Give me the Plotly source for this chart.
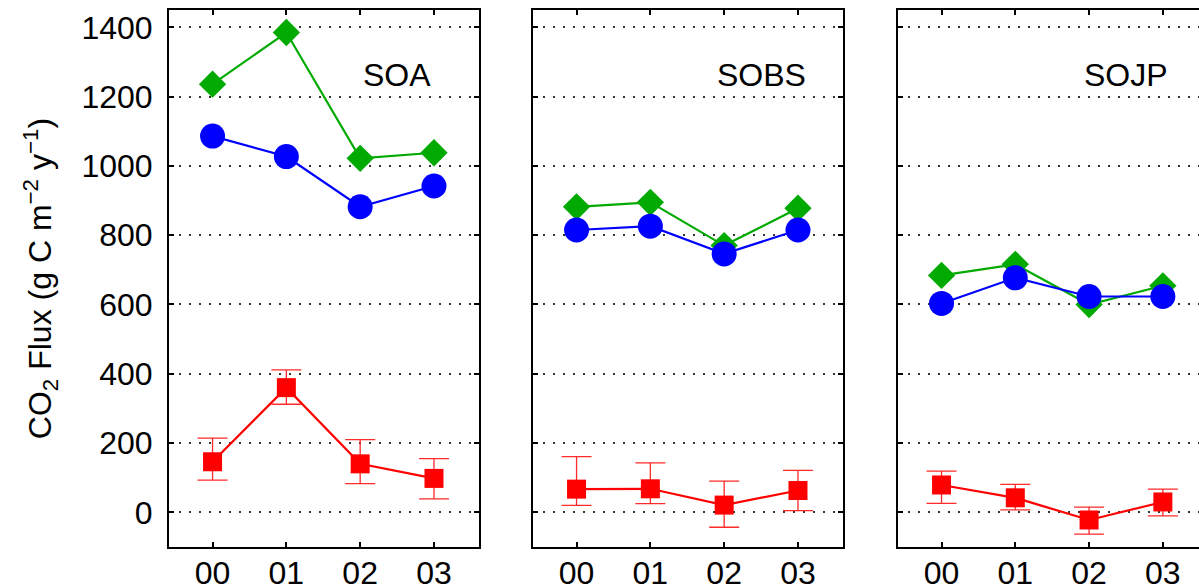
import plotly.graph_objects as go

# Annual CO2 fluxes for three boreal sites, 2000-2003
years = ["00", "01", "02", "03"]
sites = ["SOA", "SOBS", "SOJP"]

# Gross ecosystem production (green diamonds)
gep_soa = [1236, 1385, 1022, 1038]
gep_sobs = [882, 895, 770, 878]
gep_sojp = [684, 716, 600, 654]

# Ecosystem respiration (blue circles)
re_soa = [1086, 1027, 882, 942]
re_sobs = [815, 826, 746, 815]
re_sojp = [603, 677, 623, 623]

# Net ecosystem production (red squares) with asymmetric uncertainty
nep_soa = [146, 360, 140, 98]
nep_sobs = [67, 68, 21, 63]
nep_sojp = [79, 42, -22, 30]

nep_err_plus_soa = [68, 51, 70, 57]
nep_err_minus_soa = [53, 48, 57, 59]
nep_err_plus_sobs = [94, 75, 69, 58]
nep_err_minus_sobs = [47, 43, 64, 58]
nep_err_plus_sojp = [40, 39, 37, 37]
nep_err_minus_sojp = [53, 35, 41, 40]

y_ticks = [0, 200, 400, 600, 800, 1000, 1200, 1400]

gep = [gep_soa, gep_sobs, gep_sojp]
resp = [re_soa, re_sobs, re_sojp]
nep = [nep_soa, nep_sobs, nep_sojp]
nep_plus = [nep_err_plus_soa, nep_err_plus_sobs, nep_err_plus_sojp]
nep_minus = [nep_err_minus_soa, nep_err_minus_sobs, nep_err_minus_sojp]

GREEN = "#00AA00"
BLUE = "#0000FF"
RED = "#FF0000"
FONT = "Liberation Sans, Arial, Helvetica, sans-serif"

fig = go.Figure()

# Plot area starts at 169 px; panel widths in px converted to paper fractions
W, L = 1199, 169
plot_w = W - L
domains = [
    [0.0, 310 / plot_w],
    [(533 - L) / plot_w, (843 - L) / plot_w],
    [(898 - L) / plot_w, 1.0],
]
x_ranges = [[-0.59, 3.61], [-0.59, 3.61], [-0.59, 3.49]]

for i, site in enumerate(sites):
    xa = "x" if i == 0 else f"x{i + 1}"
    ya = "y" if i == 0 else f"y{i + 1}"
    fig.add_trace(go.Scatter(
        x=years, y=gep[i], name="GEP", mode="lines+markers",
        line=dict(color=GREEN, width=2.2),
        marker=dict(symbol="diamond", size=21, color=GREEN),
        xaxis=xa, yaxis=ya, showlegend=False))
    fig.add_trace(go.Scatter(
        x=years, y=resp[i], name="R", mode="lines+markers",
        line=dict(color=BLUE, width=2.2),
        marker=dict(symbol="circle", size=25, color=BLUE),
        xaxis=xa, yaxis=ya, showlegend=False))
    fig.add_trace(go.Scatter(
        x=years, y=nep[i], name="NEP", mode="lines+markers",
        line=dict(color=RED, width=2.2),
        marker=dict(symbol="square", size=19, color=RED),
        error_y=dict(type="data", symmetric=False,
                     array=nep_plus[i], arrayminus=nep_minus[i],
                     color="#FF2A2A", thickness=1.3, width=15),
        xaxis=xa, yaxis=ya, showlegend=False))
    fig.add_annotation(
        text=site, x=2.5, y=1262, xref=xa, yref=ya,
        showarrow=False, xanchor="center", yanchor="middle",
        font=dict(family=FONT, size=32, color="black"))

axis_common = dict(
    showline=True, linecolor="black", linewidth=2,
    ticks="inside", ticklen=5, tickwidth=1.5, tickcolor="black",
    zeroline=False, automargin=False,
    tickfont=dict(family=FONT, size=32, color="black"),
)

layout = dict(
    width=W, height=588,
    margin=dict(l=L, r=0, t=10, b=41, autoexpand=False),
    paper_bgcolor="white", plot_bgcolor="white",
    font=dict(family=FONT, color="black"),
    showlegend=False,
)

for i in range(3):
    xkey = "xaxis" if i == 0 else f"xaxis{i + 1}"
    ykey = "yaxis" if i == 0 else f"yaxis{i + 1}"
    xa_anchor = "y" if i == 0 else f"y{i + 1}"
    ya_anchor = "x" if i == 0 else f"x{i + 1}"
    layout[xkey] = dict(
        axis_common, domain=domains[i], anchor=xa_anchor,
        type="category", categoryorder="array", categoryarray=years,
        range=x_ranges[i], mirror="ticks", showgrid=False,
        ticklabelstandoff=-3,
    )
    layout[ykey] = dict(
        axis_common, domain=[0, 1], anchor=ya_anchor,
        range=[-100, 1450], tickvals=y_ticks,
        mirror="ticks" if i < 2 else False,
        showgrid=True, gridcolor="#333333", gridwidth=1.5,
        griddash="1.5px,8.5px",
        showticklabels=(i == 0), ticklabelstandoff=8,
    )

layout["yaxis"]["title"] = dict(
    text="CO<sub>2</sub> Flux (g C m<sup>\u22122</sup> y<sup>\u22121</sup>)",
    font=dict(family=FONT, size=32, color="black"),
    standoff=20,
)

fig.update_layout(**layout)
fig.write_html("out.html")
